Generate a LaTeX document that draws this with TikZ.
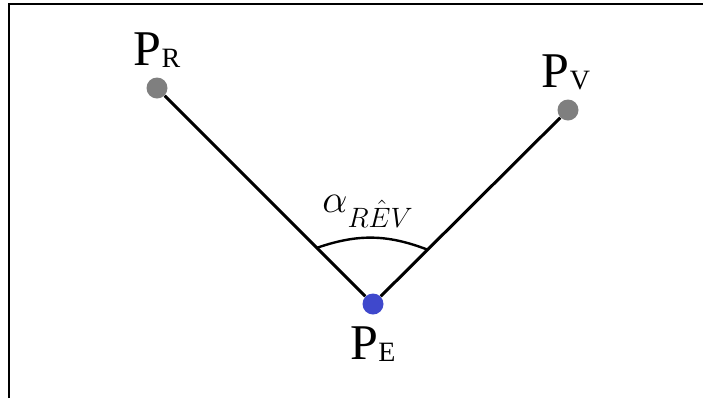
\documentclass[tikz,border=0pt]{standalone}
\usepackage{fix-cm}
\usepackage{fontspec}
\setmainfont{Liberation Serif}
\usetikzlibrary{calc}
\definecolor{dotgris}{RGB}{127,127,127}
\definecolor{dotbleu}{RGB}{63,72,204}
\tikzset{
  pt/.style={circle,inner sep=0pt,minimum size=10.5pt},
  seg/.style={line width=1.5pt,black}
}
\begin{document}
\begin{tikzpicture}[x=0.5pt,y=-0.5pt]
\def\lab#1{{\fontsize{25}{28}\selectfont P}\raisebox{-1pt}{\fontsize{14}{16}\selectfont #1}}
\useasboundingbox (0,0) rectangle (703,398);
\draw[line width=1pt] (9,398) -- (9,4) -- (703,4);
\node[pt,fill=dotgris] (pR) at (157,88) {};
\node[pt,fill=dotgris] (pV) at (568,110) {};
\node[pt,fill=dotbleu] (pE) at (373,304) {};
\node[anchor=base,inner sep=0pt] (lR) at (157,65) {\lab{R}};
\node[anchor=base,inner sep=0pt] (lV) at (566,87) {\lab{V}};
\node[anchor=base,inner sep=0pt] (lE) at (373,359) {\lab{E}};
\draw[seg] (pR) -- (pE) -- (pV);
\coordinate (aR) at ($(pE.center)!0.26!(pR.center)$);
\coordinate (aV) at ($(pE.center)!0.28!(pV.center)$);
\draw[line width=1.2pt] (aR) to[bend left=20] (aV);
\node[anchor=base west,inner sep=0pt,font=\fontsize{20}{24}\selectfont] (alpha) at (322,212)
  {$\alpha$\raisebox{-7.5pt}{\fontsize{14}{16}\selectfont$R\hat{E}V$}};
\end{tikzpicture}
\end{document}
